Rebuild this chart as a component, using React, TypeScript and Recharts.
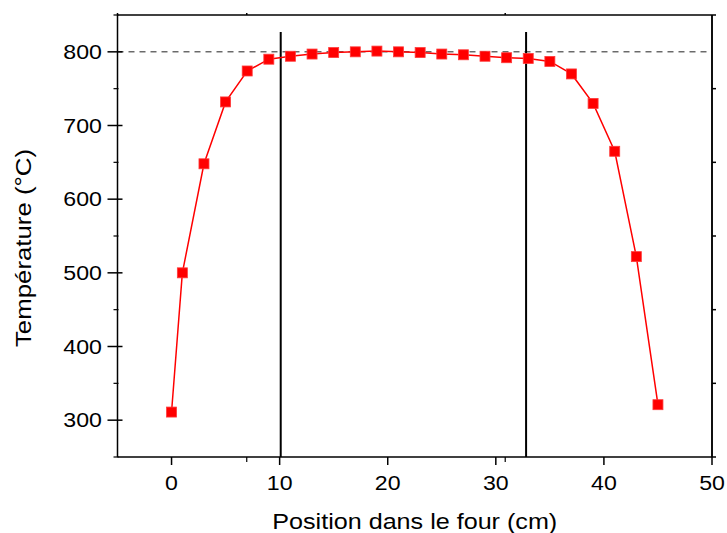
import { ComposedChart, Line, XAxis, YAxis, ReferenceLine } from "recharts";

// Furnace temperature profile (position in cm, temperature in °C)
const positions = [0, 1, 3, 5, 7, 9, 11, 13, 15, 17, 19, 21, 23, 25, 27, 29, 31, 33, 35, 37, 39, 41, 43, 45];
const temperatures = [311, 500, 648, 732, 774, 790, 794, 797, 799, 800, 801, 800, 799, 797, 796, 794, 792, 791, 787, 770, 730, 665, 522, 321];

const xMajorTicks = [0, 10, 20, 30, 40, 50];
const xMinorTicks = [-5, 5, 15, 25, 35, 45];
const yMajorTicks = [300, 400, 500, 600, 700, 800];
const yMinorTicks = [250, 350, 450, 550, 650, 750, 850];

const setpoint = 800;
const zoneEdges = [10.1, 32.8];
const zoneTop = 827;

const xDomain: [number, number] = [-5, 50];
const yDomain: [number, number] = [250, 850];

const FONT = '"Liberation Sans", Arial, sans-serif';
const RED = "#ff0000";
// the source figure's lettering is a bit wider than Arial
const STRETCH = 1.13;

const data = positions.map((x, i) => ({ x, t: temperatures[i] }));

const noTick = () => <g />;

const XTick = ({ x, y, payload }: any) => (
  <g transform={`translate(${x},${y})`}>
    <text
      x={0}
      y={0}
      dy="0.71em"
      textAnchor="middle"
      transform={`scale(${STRETCH},1)`}
      fontFamily={FONT}
      fontSize={20.5}
      fill="#000"
    >
      {payload.value}
    </text>
  </g>
);

const YTick = ({ x, y, payload }: any) => (
  <g transform={`translate(${x},${y})`}>
    <text
      x={0}
      y={0}
      dy="0.355em"
      textAnchor="end"
      transform={`scale(${STRETCH},1)`}
      fontFamily={FONT}
      fontSize={20.5}
      fill="#000"
    >
      {payload.value}
    </text>
  </g>
);

const squareDot = (p: any) => (
  <rect
    key={`d-${p.index}`}
    x={p.cx - 5}
    y={p.cy - 5}
    width={10}
    height={10}
    fill={RED}
    stroke="#ff3b3b"
    strokeWidth={0.8}
  />
);

const xTitle = (props: any) => {
  const vb = props.viewBox;
  const cx = vb.x + vb.width / 2;
  const by = vb.y + 71.5;
  return (
    <text
      transform={`translate(${cx},${by}) scale(1.17,1)`}
      textAnchor="middle"
      fontFamily={FONT}
      fontSize={21.5}
      fill="#000"
    >
      Position dans le four (cm)
    </text>
  );
};

const yTitle = (props: any) => {
  const vb = props.viewBox;
  const cx = 30.5;
  const cy = vb.y + vb.height / 2 + 12;
  return (
    <text
      transform={`translate(${cx},${cy}) rotate(-90) scale(1.2,1)`}
      textAnchor="middle"
      fontFamily={FONT}
      fontSize={21.5}
      fill="#000"
    >
      Température (°C)
    </text>
  );
};

export default function App() {
  return (
    <div style={{ position: "absolute", left: 0, top: 0, background: "#fff" }}>
      <ComposedChart
        width={727}
        height={533}
        data={data}
        margin={{ top: 15, right: 14, bottom: 0, left: 0 }}
      >
        <XAxis
          xAxisId="main"
          type="number"
          dataKey="x"
          domain={xDomain}
          allowDataOverflow
          ticks={xMajorTicks}
          tickSize={8}
          tickMargin={10.3}
          height={76}
          stroke="#000"
          strokeWidth={1.5}
          tick={XTick}
          label={xTitle}
        />
        {/* minor ticks, mirrored so they take no room; negative size points them outward */}
        <XAxis
          xAxisId="minor"
          mirror
          type="number"
          domain={xDomain}
          allowDataOverflow
          ticks={xMinorTicks}
          tickSize={-5}
          tick={noTick}
          axisLine={false}
          height={1}
          stroke="#000"
          strokeWidth={1.2}
        />
        <XAxis
          xAxisId="top"
          orientation="top"
          mirror
          type="number"
          domain={xDomain}
          allowDataOverflow
          ticks={[...xMajorTicks, ...xMinorTicks]}
          tickSize={-2}
          tick={noTick}
          height={1}
          stroke="#000"
          strokeWidth={1.5}
        />
        <YAxis
          yAxisId="main"
          type="number"
          dataKey="t"
          domain={yDomain}
          allowDataOverflow
          ticks={yMajorTicks}
          tickSize={10}
          tickMargin={5.5}
          width={117.5}
          stroke="#000"
          strokeWidth={1.5}
          tick={YTick}
          label={yTitle}
        />
        <YAxis
          yAxisId="minor"
          mirror
          type="number"
          domain={yDomain}
          allowDataOverflow
          ticks={yMinorTicks}
          tickSize={-5}
          tick={noTick}
          axisLine={false}
          width={1}
          stroke="#000"
          strokeWidth={1.2}
        />
        <YAxis
          yAxisId="inner"
          mirror
          type="number"
          domain={yDomain}
          allowDataOverflow
          ticks={yMajorTicks}
          tickSize={5}
          tick={noTick}
          axisLine={false}
          width={1}
          stroke="#000"
          strokeWidth={1.5}
        />
        <YAxis
          yAxisId="right"
          orientation="right"
          type="number"
          domain={yDomain}
          allowDataOverflow
          ticks={[...yMajorTicks, ...yMinorTicks]}
          tickSize={4}
          tick={noTick}
          width={1}
          stroke="#000"
          strokeWidth={1.5}
        />
        {/* right frame edge of the plot box */}
        <ReferenceLine
          xAxisId="main"
          yAxisId="main"
          x={xDomain[1]}
          stroke="#000"
          strokeWidth={1.5}
        />
        <ReferenceLine
          xAxisId="main"
          yAxisId="main"
          y={setpoint}
          stroke="#222"
          strokeWidth={1}
          strokeDasharray="6 5"
        />
        {zoneEdges.map((xe) => (
          <ReferenceLine
            key={xe}
            xAxisId="main"
            yAxisId="main"
            segment={[
              { x: xe, y: zoneTop },
              { x: xe, y: yDomain[0] },
            ]}
            stroke="#000"
            strokeWidth={2}
          />
        ))}
        <Line
          xAxisId="main"
          yAxisId="main"
          type="linear"
          dataKey="t"
          stroke={RED}
          strokeWidth={1.5}
          dot={squareDot}
          activeDot={false}
          isAnimationActive={false}
        />
      </ComposedChart>
    </div>
  );
}
